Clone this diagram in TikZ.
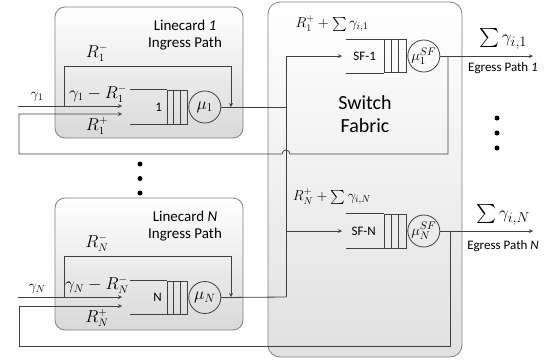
\documentclass[tikz,border=0pt]{standalone}
\usepackage{amsmath}
\usepackage{amssymb}
\usepackage{fontspec}
\setmainfont{Carlito}
\usetikzlibrary{shapes,arrows,positioning,calc,fit,backgrounds}

\begin{document}
\begin{tikzpicture}[x=1pt, y=-1pt, >=stealth, line width=0.8pt,
    card/.style={draw=black!50, rounded corners=10pt, top color=white, bottom color=black!15},
    wire/.style={draw=black!75},
    qbox/.style={draw=black!75, minimum width=20pt, minimum height=34pt, inner sep=0pt},
    srv/.style={draw=black!75, circle, minimum size=32pt, inner sep=0pt, font=\fontsize{18}{20}\selectfont},
    title/.style={align=center, font=\fontsize{15}{16.5}\selectfont},
    small/.style={font=\fontsize{13}{15}\selectfont},
    mlbl/.style={font=\fontsize{16}{18}\selectfont, inner sep=1pt},
    dot/.style={circle, fill=black, inner sep=0pt, minimum size=5pt}]
    \useasboundingbox (0,0) rectangle (552,360);

    % boxes
    \node[card, minimum width=188pt, minimum height=131pt] (lc1) at (149,72.5) {};
    \node[card, minimum width=188pt, minimum height=132pt] (lcN) at (149,264) {};
    \node[card, minimum width=194pt, minimum height=355pt, rounded corners=12pt, bottom color=black!12] (sf) at (365,179.5) {};

    \node[title] (lc1txt) at (185,35) {Linecard \textit{1}\\Ingress Path};
    \node[title] (lcNtxt) at (185,226) {Linecard \textit{N}\\Ingress Path};
    \node[align=center, font=\fontsize{20}{23}\selectfont] (sftxt) at (365,114) {Switch\\Fabric};

    % linecard 1
    \node[qbox] (q1) at (177,107) {};
    \foreach \i in {1,2}
        \draw[wire] ($(q1.north west)!\i/3!(q1.north east)$) -- ($(q1.south west)!\i/3!(q1.south east)$);
    \draw[wire] (q1.north west) -- ++(-37,0);
    \draw[wire] (q1.south west) -- ++(-37,0);
    \node[small, left=1pt of q1] (q1lbl) {1};
    \node[srv, right=1pt of q1] (mu1) {$\mu_1$};

    \coordinate (g1) at (18,106);
    \coordinate (g1end) at (122,106);
    \coordinate (r1end) at (122,114);
    \coordinate (br1) at (64,106);
    \coordinate (fb1) at (231,107);
    \draw[wire,->] (g1) -- (g1end);
    \draw[wire,->] (br1) -- (64,66) -- (231,66) -- (fb1);
    \node[font=\fontsize{14}{16}\selectfont, inner sep=1pt] (g1lbl) at (37,97) {$\gamma_1$};
    \node[mlbl] (rm1) at (97,53) {$R_1^-$};
    \node[mlbl] (gr1) at (98,94) {$\gamma_1 - R_1^-$};
    \node[mlbl] (rp1) at (97,126) {$R_1^+$};

    % linecard N
    \node[qbox, minimum height=33pt] (qN) at (177,297.5) {};
    \foreach \i in {1,2}
        \draw[wire] ($(qN.north west)!\i/3!(qN.north east)$) -- ($(qN.south west)!\i/3!(qN.south east)$);
    \draw[wire] (qN.north west) -- ++(-37,0);
    \draw[wire] (qN.south west) -- ++(-37,0);
    \node[small, left=1pt of qN] (qNlbl) {N};
    \node[srv, right=1pt of qN] (muN) {$\mu_N$};

    \coordinate (gN) at (18,297);
    \coordinate (gNend) at (122,297);
    \coordinate (rNend) at (122,306);
    \coordinate (brN) at (64,297);
    \coordinate (fbN) at (231,297);
    \draw[wire,->] (gN) -- (gNend);
    \draw[wire,->] (brN) -- (64,256) -- (231,256) -- (fbN);
    \node[font=\fontsize{14}{16}\selectfont, inner sep=1pt] (gNlbl) at (37,289) {$\gamma_N$};
    \node[mlbl] (rmN) at (97,243) {$R_N^-$};
    \node[mlbl] (grN) at (97,285) {$\gamma_N - R_N^-$};
    \node[mlbl] (rpN) at (97,318) {$R_N^+$};

    % dots
    \foreach \y in {164,178.5,193}
        \node[dot] at (140,\y) {};
    \foreach \y in {118,133,148}
        \node[dot] at (497,\y) {};

    % switch fabric queues
    \node[qbox, minimum width=22pt, minimum height=33pt] (sq1) at (395,56) {};
    \foreach \i in {1,2}
        \draw[wire] ($(sq1.north west)!\i/3!(sq1.north east)$) -- ($(sq1.south west)!\i/3!(sq1.south east)$);
    \draw[wire] (sq1.north west) -- ++(-38,0);
    \draw[wire] (sq1.south west) -- ++(-38,0);
    \node[small, left=4pt of sq1] (sq1lbl) {SF-1};
    \node[srv, right=1pt of sq1, font=\fontsize{15}{17}\selectfont] (smu1) {$\mu_1^{SF}$};

    \node[qbox, minimum width=22pt, minimum height=34pt] (sqN) at (395,231) {};
    \foreach \i in {1,2}
        \draw[wire] ($(sqN.north west)!\i/3!(sqN.north east)$) -- ($(sqN.south west)!\i/3!(sqN.south east)$);
    \draw[wire] (sqN.north west) -- ++(-38,0);
    \draw[wire] (sqN.south west) -- ++(-38,0);
    \node[small, left=4pt of sqN] (sqNlbl) {SF-N};
    \node[srv, right=1pt of sqN, font=\fontsize{15}{17}\selectfont] (smuN) {$\mu_N^{SF}$};

    \node[font=\fontsize{14}{16}\selectfont] (sin1lbl) at (332,24) {$R_1^+ + \textstyle\sum\gamma_{i,1}$};
    \node[font=\fontsize{14}{16}\selectfont] (sinNlbl) at (332,197) {$R_N^+ + \textstyle\sum\gamma_{i,N}$};

    % bus to switch fabric
    \coordinate (bus1) at (286,56);
    \coordinate (busN) at (286,297);
    \coordinate (sin1) at (342,56);
    \coordinate (sinN) at (342,231);
    \draw[wire] (mu1.east) -- (mu1.east -| bus1);
    \draw[wire] (muN.east) -- (busN);
    \draw[wire] (bus1) -- (busN);
    \draw[wire,->] (bus1) -- (sin1);
    \draw[wire,->] (bus1 |- sinN) -- (sinN);

    % egress
    \coordinate (eg1) at (533,56);
    \coordinate (egN) at (533,231);
    \draw[wire,->] (smu1.east) -- (eg1);
    \draw[wire,->] (smuN.east) -- (egN);
    \node[font=\fontsize{19}{22}\selectfont] (eg1sum) at (503,39) {$\textstyle\sum\gamma_{i,1}$};
    \node[small] (eg1lbl) at (503,68) {Egress Path \textit{1}};
    \node[font=\fontsize{19}{22}\selectfont] (egNsum) at (503,215) {$\textstyle\sum\gamma_{i,N}$};
    \node[small] (egNlbl) at (503,246) {Egress Path \textit{N}};

    % feedback
    \coordinate (fbs1) at (448,56);
    \coordinate (fbsN) at (450,231);
    \draw[wire,->] (fbs1) -- (448,154) -- (290,154) arc (0:-180:4) -- (19,154) -- (19,114) -- (r1end);
    \draw[wire,->] (fbsN) -- (450,346) -- (19,346) -- (19,306) -- (rNend);
\end{tikzpicture}
\end{document}
